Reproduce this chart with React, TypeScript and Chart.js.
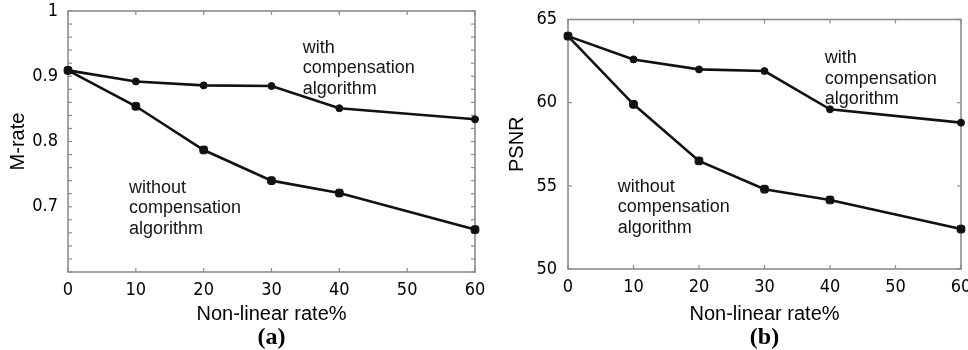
import React, { useEffect, useRef } from 'react';
import { Chart, registerables } from 'chart.js';
Chart.register(...registerables);

// ---- data ----
const rates = [0, 10, 20, 30, 40, 60];
const mrateWith = [0.909, 0.892, 0.886, 0.885, 0.851, 0.834];
const mrateWithout = [0.909, 0.854, 0.787, 0.74, 0.721, 0.665];
const psnrWith = [64.0, 62.6, 62.0, 61.9, 59.6, 58.8];
const psnrWithout = [64.0, 59.9, 56.5, 54.8, 54.15, 52.4];
const xTickValues = [0, 10, 20, 30, 40, 50, 60];
const mrateLabels = [0.7, 0.8, 0.9, 1];
const psnrLabels = [50, 55, 60, 65];
const withText = ['with', 'compensation', 'algorithm'];
const withoutText = ['without', 'compensation', 'algorithm'];

const TICK_FONT = '"DejaVu Sans", sans-serif';
const SANS = '"Liberation Sans", Arial, Helvetica, sans-serif';
const SERIF = '"Liberation Serif", "Times New Roman", serif';

const framePlugin = {
  id: 'frame',
  beforeDatasetsDraw(chart: any) {
    const { ctx, chartArea: a, scales } = chart;
    const L = 4;
    ctx.save();
    ctx.strokeStyle = '#8c8c8c';
    ctx.lineWidth = 1.2;
    const seg = (x1: number, y1: number, x2: number, y2: number) => {
      ctx.beginPath();
      ctx.moveTo(x1, y1);
      ctx.lineTo(x2, y2);
      ctx.stroke();
    };
    for (const t of scales.x.ticks) {
      const px = scales.x.getPixelForValue(t.value);
      seg(px, a.bottom, px, a.bottom - L);
      seg(px, a.top, px, a.top + L);
    }
    for (const t of scales.y.ticks) {
      const py = scales.y.getPixelForValue(t.value);
      seg(a.left, py, a.left + L, py);
      seg(a.right, py, a.right - L, py);
    }
    ctx.lineWidth = 1.6;
    ctx.strokeRect(a.left, a.top, a.right - a.left, a.bottom - a.top);
    ctx.restore();
  },
};

const notesPlugin = {
  id: 'notes',
  afterDatasetsDraw(chart: any, _args: any, opts: any) {
    const { ctx, scales } = chart;
    ctx.save();
    ctx.font = '18px ' + SANS;
    ctx.fillStyle = '#151515';
    ctx.textBaseline = 'middle';
    ctx.textAlign = 'left';
    const items = opts.items || [];
    for (const n of items) {
      const x = scales.x.getPixelForValue(n.x);
      const y0 = scales.y.getPixelForValue(n.y);
      n.lines.forEach((l: string, i: number) => ctx.fillText(l, x, y0 + i * opts.lineGap));
    }
    ctx.restore();
  },
};

function makeConfig(cfg: any) {
  const line = (vals: number[], style: string, r: number) => ({
    data: rates.map((x, i) => ({ x, y: vals[i] })),
    borderColor: '#111',
    backgroundColor: '#111',
    borderWidth: 2.6,
    pointStyle: style,
    pointRadius: r,
    pointBackgroundColor: '#111',
    pointBorderColor: '#111',
    pointBorderWidth: 1,
    clip: false,
    tension: 0,
  });
  const tickFont = { family: TICK_FONT, size: 18, style: 'normal', weight: 'normal condensed' };
  return {
    type: 'line',
    data: {
      datasets: [line(cfg.withVals, 'circle', 3.5), line(cfg.withoutVals, 'rectRounded', 4.5)],
    },
    plugins: [framePlugin, notesPlugin],
    options: {
      responsive: false,
      animation: false,
      devicePixelRatio: 1,
      layout: { padding: { top: cfg.padTop, right: cfg.padRight, left: 0, bottom: 0 } },
      plugins: {
        legend: { display: false },
        tooltip: { enabled: false },
        title: {
          display: true,
          position: 'bottom',
          fullSize: false,
          text: cfg.caption,
          color: '#000',
          padding: 0,
          font: { family: SERIF, size: 24, weight: 'bold', lineHeight: 1 },
        },
        notes: { items: cfg.notes, lineGap: 20.5 },
      },
      scales: {
        x: {
          type: 'linear',
          min: 0,
          max: 60,
          afterBuildTicks: (s: any) => {
            s.ticks = xTickValues.map((v) => ({ value: v }));
          },
          ticks: {
            font: tickFont,
            color: '#000',
            padding: 0,
            autoSkip: false,
            maxRotation: 0,
            callback: (v: any) => String(v),
          },
          grid: { display: false, drawTicks: true, tickLength: 8 },
          border: { display: false },
          title: {
            display: true,
            text: 'Non-linear rate%',
            color: '#000',
            font: { family: SANS, size: 20, lineHeight: 1.2 },
            padding: { top: 0, bottom: 0 },
          },
          afterFit: (s: any) => {
            s.height = cfg.xHeight;
          },
        },
        y: {
          type: 'linear',
          min: cfg.yMin,
          max: cfg.yMax,
          ticks: {
            stepSize: cfg.yStep,
            font: tickFont,
            color: '#000',
            padding: 0,
            autoSkip: false,
            callback: (v: any) => {
              const hit = cfg.yLabels.some((l: number) => Math.abs(l - v) < 1e-6);
              return hit ? cfg.fmt(v) : '';
            },
          },
          grid: { display: false, drawTicks: true, tickLength: cfg.yPad },
          border: { display: false },
          title: {
            display: true,
            text: cfg.yTitle,
            color: '#000',
            font: { family: SANS, size: 20, lineHeight: 1.2 },
            padding: { top: cfg.yTitlePad, bottom: 0 },
          },
          afterFit: (s: any) => {
            s.width = cfg.yWidth;
          },
        },
      },
    },
  };
}

function ChartCanvas({ cfg, width, height }: any) {
  const ref = useRef<HTMLCanvasElement | null>(null);
  useEffect(() => {
    if (!ref.current) return;
    const chart = new Chart(ref.current, makeConfig(cfg) as any);
    return () => chart.destroy();
  }, []);
  return <canvas ref={ref} width={width} height={height} style={{ width, height, display: 'block' }} />;
}

const leftCfg = {
  withVals: mrateWith,
  withoutVals: mrateWithout,
  yMin: 0.6,
  yMax: 1.0,
  yStep: 0.02,
  yLabels: mrateLabels,
  fmt: (v: number) => (Math.abs(v - 1) < 1e-6 ? '1' : v.toFixed(1)),
  yTitle: 'M-rate',
  yTitlePad: 6,
  yWidth: 68,
  yPad: 10,
  padTop: 11,
  padRight: 25,
  xHeight: 54,
  caption: '(a)',
  notes: [
    { x: 34.6, y: 0.9433, lines: withText },
    { x: 9.0, y: 0.7292, lines: withoutText },
  ],
};

const rightCfg = {
  withVals: psnrWith,
  withoutVals: psnrWithout,
  yMin: 50,
  yMax: 65,
  yStep: 5,
  yLabels: psnrLabels,
  fmt: (v: number) => String(v),
  yTitle: 'PSNR',
  yTitlePad: 21,
  yWidth: 84,
  yPad: 11,
  padTop: 19.5,
  padRight: 23,
  xHeight: 57,
  caption: '(b)',
  notes: [
    { x: 39.2, y: 62.68, lines: withText },
    { x: 7.6, y: 54.93, lines: withoutText },
  ],
};

export default function App() {
  return (
    <div style={{ position: 'absolute', left: 0, top: 0, width: 968, height: 350, background: '#fff', overflow: 'hidden' }}>
      <div style={{ position: 'absolute', left: 0, top: 0, width: 500, height: 350 }}>
        <ChartCanvas cfg={leftCfg} width={500} height={350} />
      </div>
      <div style={{ position: 'absolute', left: 484, top: 0, width: 484, height: 350, overflow: 'hidden' }}>
        <ChartCanvas cfg={rightCfg} width={500} height={350} />
      </div>
    </div>
  );
}
